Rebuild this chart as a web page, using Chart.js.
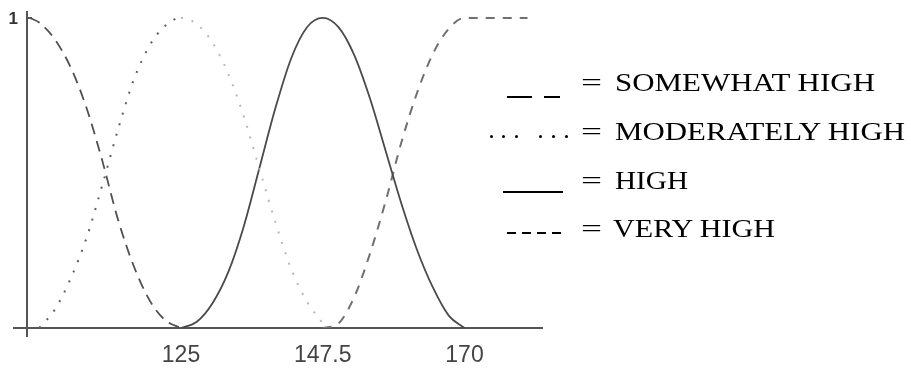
<!DOCTYPE html>
<html>
<head>
<meta charset="utf-8">
<script src="https://cdn.jsdelivr.net/npm/chart.js@4.4.1/dist/chart.umd.min.js"></script>
<style>
  html, body { margin: 0; padding: 0; background: #fff; }
  #wrap { position: relative; width: 911px; height: 371px; overflow: hidden; }
  #c { position: absolute; left: 0; top: 0; }
  .txt { position: absolute; font-family: "Liberation Serif", "DejaVu Serif", serif; font-size: 26px; line-height: 26px; color: #000; white-space: nowrap; transform-origin: 0 0; }
  .bar { position: absolute; background: #000; height: 2px; }
  .dot { position: absolute; background: #000; width: 3px; height: 3px; border-radius: 50%; }
</style>
</head>
<body>
<div id="wrap">
  <canvas id="c" width="911" height="371"></canvas>
</div>
<script>
// ---- data ----
const xGrid = [101, 102.5, 105, 107.5, 110, 112.5, 115, 117.5, 120, 122.5, 125,
               127.5, 130, 132.5, 135, 137.5, 140, 142.5, 145, 147.5, 150,
               152.5, 155, 157.5, 160, 162.5, 165, 167.5, 170, 172.5, 175, 177.5, 180];

const somewhatHigh = [1, 0.985, 0.93, 0.84, 0.71, 0.54, 0.35, 0.2, 0.09, 0.025, 0,
                      null, null, null, null, null, null, null, null, null, null,
                      null, null, null, null, null, null, null, null, null, null, null, null];

const moderatelyHigh = [null, 0, 0.06, 0.16, 0.29, 0.46, 0.64, 0.80, 0.91, 0.975, 1,
                        0.98, 0.92, 0.82, 0.68, 0.51, 0.34, 0.19, 0.085, 0.015, null,
                        null, null, null, null, null, null, null, null, null, null, null, null];

const high = [null, null, null, null, null, null, null, null, null, null, 0,
              0.02, 0.08, 0.18, 0.33, 0.52, 0.71, 0.87, 0.97, 1, 0.97,
              0.88, 0.74, 0.57, 0.40, 0.25, 0.13, 0.04, 0, null, null, null, null];

const veryHigh = [null, null, null, null, null, null, null, null, null, null, null,
                  null, null, null, null, null, null, null, null, 0, 0.015,
                  0.10, 0.24, 0.41, 0.60, 0.76, 0.885, 0.965, 1, 1, 1, 1, 1];

const xTickValues = [125, 147.5, 170];
const yTickValues = [1];
const legendLabels = ['SOMEWHAT HIGH', 'MODERATELY HIGH', 'HIGH', 'VERY HIGH'];

// ---- chart ----
const toPts = arr => xGrid.map((x, i) => ({ x: x, y: arr[i] }));

const axisExtras = {
  id: 'axisExtras',
  afterDraw(chart) {
    const { ctx, chartArea, scales } = chart;
    const x0 = chartArea.left, yb = scales.y.getPixelForValue(0);
    const y1 = scales.y.getPixelForValue(1);
    ctx.save();
    ctx.strokeStyle = '#555';
    ctx.lineWidth = 2;
    ctx.beginPath();
    ctx.moveTo(x0 - 14, yb); ctx.lineTo(x0, yb);
    ctx.moveTo(x0, yb); ctx.lineTo(x0, yb + 9);
    ctx.moveTo(x0, y1); ctx.lineTo(x0 + 5, y1);
    ctx.stroke();
    ctx.restore();
  }
};

new Chart(document.getElementById('c'), {
  type: 'line',
  data: {
    datasets: [
      { label: legendLabels[0], data: toPts(somewhatHigh), borderColor: '#505050', borderWidth: 1.8, borderDash: [11, 7], pointRadius: 0, cubicInterpolationMode: 'monotone', fill: false },
      { label: legendLabels[1], data: toPts(moderatelyHigh), borderColor: '#606060', borderWidth: 2, borderDash: [2, 9], pointRadius: 0, cubicInterpolationMode: 'monotone', fill: false,
        segment: { borderColor: ctx => (ctx.p0.parsed.x >= 125 ? '#b8b8b8' : '#606060') } },
      { label: legendLabels[2], data: toPts(high), borderColor: '#4a4a4a', borderWidth: 1.8, pointRadius: 0, cubicInterpolationMode: 'monotone', fill: false },
      { label: legendLabels[3], data: toPts(veryHigh), borderColor: '#707070', borderWidth: 2, borderDash: [9, 8], pointRadius: 0, cubicInterpolationMode: 'monotone', fill: false }
    ]
  },
  options: {
    responsive: false,
    animation: false,
    devicePixelRatio: 1,
    layout: { padding: { left: 0, top: 12, right: 369, bottom: 0 } },
    plugins: { legend: { display: false }, tooltip: { enabled: false } },
    scales: {
      x: {
        type: 'linear', min: 100.56, max: 182.3,
        afterBuildTicks: s => { s.ticks = xTickValues.map(v => ({ value: v })); },
        afterFit: s => { s.height = 43; s.paddingLeft = 0; s.paddingRight = 0; },
        grid: { display: false, drawTicks: false },
        border: { display: true, color: '#555', width: 2 },
        ticks: { color: '#444', font: { family: 'Liberation Sans', size: 23 }, padding: 14, maxRotation: 0, autoSkip: false }
      },
      y: {
        type: 'linear', min: 0, max: 1.019,
        afterBuildTicks: s => { s.ticks = yTickValues.map(v => ({ value: v })); },
        afterFit: s => { s.width = 27; s.paddingTop = 0; s.paddingBottom = 0; },
        grid: { display: false, drawTicks: false },
        border: { display: true, color: '#555', width: 2 },
        ticks: { color: '#333', font: { family: 'Liberation Sans', size: 17, weight: 'bold' }, padding: 9, labelOffset: 1 }
      }
    }
  },
  plugins: [axisExtras]
});

// ---- legend (HTML text + line samples) ----
const wrap = document.getElementById('wrap');
const baselines = [92, 141, 190, 238];
const textLeft = [615, 615, 615, 613];
const textWidth = [260, 290, 73, 162];
function addText(str, left, baseline, width) {
  const d = document.createElement('div');
  d.className = 'txt';
  d.textContent = str;
  d.style.left = left + 'px';
  d.style.top = (baseline - 22) + 'px';
  wrap.appendChild(d);
  const w = d.getBoundingClientRect().width;
  d.style.transform = 'scaleX(' + (width / w) + ')';
}
function addBar(left, top, width) {
  const b = document.createElement('div');
  b.className = 'bar';
  b.style.left = left + 'px'; b.style.top = top + 'px'; b.style.width = width + 'px';
  wrap.appendChild(b);
}
function addDot(left, top) {
  const b = document.createElement('div');
  b.className = 'dot';
  b.style.left = left + 'px'; b.style.top = top + 'px';
  wrap.appendChild(b);
}
legendLabels.forEach((lab, i) => {
  addText('=', 581, baselines[i], 21);
  addText(lab, textLeft[i], baselines[i], textWidth[i]);
});
// row 1: long dash sample
addBar(507, 96, 25); addBar(544, 96, 16);
// row 2: dotted sample
[490, 502, 515, 539, 552, 565].forEach(x => addDot(x, 135));
// row 3: solid sample
addBar(503, 191, 60);
// row 4: short dash sample
[507, 522, 537, 552].forEach(x => addBar(x, 232, 9));
</script>
</body>
</html>
